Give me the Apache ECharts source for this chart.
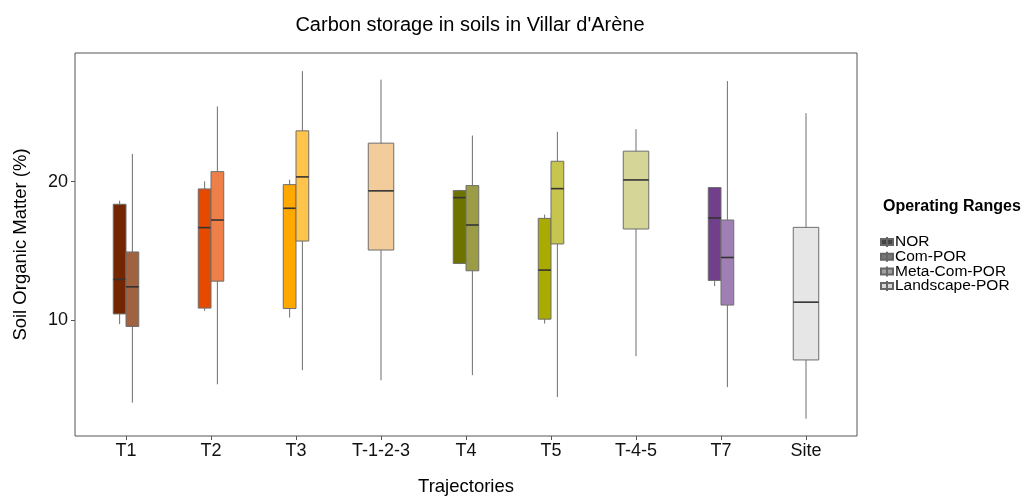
<!DOCTYPE html>
<html>
<head>
<meta charset="utf-8">
<script src="https://cdn.jsdelivr.net/npm/echarts@6/dist/echarts.min.js"></script>
<style>html,body{margin:0;padding:0;background:#fff}#c{width:1027px;height:498px}</style>
</head>
<body>
<div id="c"></div>
<script>
// Categories (trajectories)
const categories = ['T1', 'T2', 'T3', 'T-1-2-3', 'T4', 'T5', 'T-4-5', 'T7', 'Site'];
const yTicks = [10, 20];
// Box statistics: [categoryIndex, low whisker, Q1, median, Q3, high whisker]
const norData = [
  [0, 9.69, 10.43, 12.92, 18.36, 18.62],
  [1, 10.65, 10.85, 16.67, 19.47, 20.02],
  [2, 10.17, 10.82, 18.07, 19.78, 20.14],
  [4, 14.03, 14.08, 18.84, 19.35, 19.40],
  [5, 9.73, 10.05, 13.60, 17.34, 17.61],
  [7, 12.44, 12.85, 17.37, 19.57, 19.59]
];
const comData = [
  [0, 4.01, 9.52, 12.39, 14.91, 22.00],
  [1, 5.34, 12.80, 17.22, 20.72, 25.43],
  [2, 6.36, 15.70, 20.34, 23.67, 27.99],
  [4, 6.00, 13.55, 16.86, 19.71, 23.33],
  [5, 4.42, 15.49, 19.49, 21.47, 23.60],
  [7, 5.14, 11.07, 14.51, 17.22, 27.27]
];
const metaData = [
  [3, 5.63, 15.05, 19.33, 22.78, 27.37],
  [6, 7.37, 16.57, 20.12, 22.20, 23.79]
];
const landData = [
  [8, 2.85, 7.10, 11.28, 16.69, 24.95]
];
// Fill colours per box
const norColors = ['#732600', '#e64a00', '#ffa800', '#6e7300', '#aaab00', '#723f8c'];
const comColors = ['#a0623f', '#ee7f48', '#ffc44c', '#9c9c46', '#c6c550', '#a07fb4'];
const metaColors = ['#f2cc9a', '#d6d598'];
const landColors = ['#e6e6e6'];

const FONT = '"Liberation Sans", Arial, sans-serif';

function makeRender(colors, offset, width) {
  return function (params, api) {
    const x = api.value(0) + offset;
    const low = api.coord([x, api.value(1)]);
    const q1 = api.coord([x, api.value(2)]);
    const med = api.coord([x, api.value(3)]);
    const q3 = api.coord([x, api.value(4)]);
    const high = api.coord([x, api.value(5)]);
    const w = api.size([width, 0])[0];
    const cx = low[0];
    return {
      type: 'group',
      children: [
        { type: 'line', shape: { x1: cx, y1: high[1], x2: cx, y2: low[1] },
          style: { stroke: '#6e6e6e', lineWidth: 1 } },
        { type: 'rect', shape: { x: cx - w / 2, y: q3[1], width: w, height: q1[1] - q3[1] },
          style: { fill: colors[params.dataIndex], stroke: '#6e6e6e', lineWidth: 1 } },
        { type: 'line', shape: { x1: cx - w / 2, y1: med[1], x2: cx + w / 2, y2: med[1] },
          style: { stroke: '#333', lineWidth: 1.6 } }
      ]
    };
  };
}

function boxSeries(name, data, colors, offset, width, legendColor) {
  return {
    name: name,
    type: 'custom',
    data: data,
    encode: { x: 0, y: [1, 2, 3, 4, 5] },
    renderItem: makeRender(colors, offset, width),
    itemStyle: { color: legendColor, borderColor: '#666', borderWidth: 1 }
  };
}

const chart = echarts.init(document.getElementById('c'), null, { renderer: 'canvas' });
chart.setOption({
  animation: false,
  backgroundColor: '#fff',
  title: [
    { text: "Carbon storage in soils in Villar d'Arène", left: 465, top: 10, textAlign: 'center',
      textStyle: { fontFamily: FONT, fontSize: 20, fontWeight: 'normal', color: '#000' } },
    { text: 'Operating Ranges', left: 878, top: 194,
      textStyle: { fontFamily: FONT, fontSize: 16, fontWeight: 'bold', color: '#000' } }
  ],
  legend: {
    orient: 'vertical', left: 875, top: 229, itemGap: -1.3, itemWidth: 12, itemHeight: 10,
    data: ['NOR', 'Com-POR', 'Meta-Com-POR', 'Landscape-POR'],
    icon: 'path://M6,0L6,10M0,2L12,2L12,8L0,8Z',
    textStyle: { fontFamily: FONT, fontSize: 15.5, color: '#000', padding: [0, 0, 0, -3], lineHeight: 14.7 }
  },
  grid: { left: 75, right: 170, top: 53, bottom: 62, outerBoundsMode: 'none', show: true, borderColor: '#555', borderWidth: 1, backgroundColor: '#fff' },
  xAxis: {
    type: 'value', min: -0.6, max: 8.6,
    name: 'Trajectories', nameLocation: 'middle', nameGap: 41,
    nameTextStyle: { fontFamily: FONT, fontSize: 18.5, color: '#000' },
    axisLine: { show: false, onZero: false },
    splitLine: { show: false },
    axisTick: { show: true, length: 4, lineStyle: { color: '#555' }, customValues: categories.map((c, i) => i) },
    axisLabel: { fontFamily: FONT, fontSize: 18, color: '#111', margin: 6,
      customValues: categories.map((c, i) => i), formatter: v => categories[Math.round(v)] }
  },
  yAxis: {
    type: 'value', min: 1.6, max: 29.3,
    name: 'Soil Organic Matter (%)', nameLocation: 'middle', nameGap: 45,
    nameTextStyle: { fontFamily: FONT, fontSize: 18.5, color: '#000' },
    axisLine: { show: false, onZero: false },
    splitLine: { show: false },
    axisTick: { show: true, length: 4, lineStyle: { color: '#555' }, customValues: yTicks },
    axisLabel: { fontFamily: FONT, fontSize: 18, color: '#111', margin: 7, customValues: yTicks }
  },
  series: [
    boxSeries('NOR', norData, norColors, -0.075, 0.15, '#444'),
    boxSeries('Com-POR', comData, comColors, 0.075, 0.15, '#777'),
    boxSeries('Meta-Com-POR', metaData, metaColors, 0, 0.3, '#a0a0a0'),
    boxSeries('Landscape-POR', landData, landColors, 0, 0.3, '#d8d8d8')
  ]
});
</script>
</body>
</html>
